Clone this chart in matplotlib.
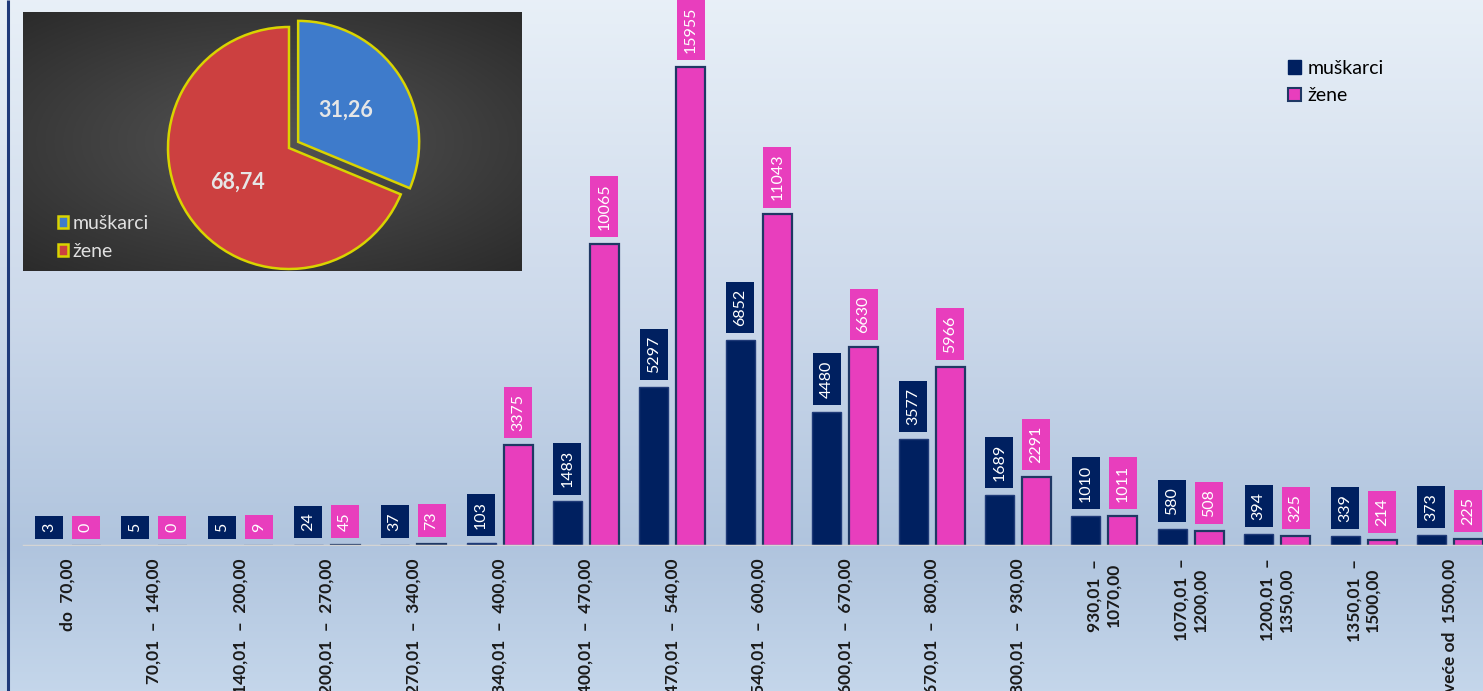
import numpy as np
import matplotlib
matplotlib.use("Agg")
import matplotlib.pyplot as plt
from matplotlib.patches import Patch

# ---------------- data ----------------
categories = ["do  70,00", "70,01  \u2013  140,00", "140,01  \u2013  200,00",
              "200,01  \u2013  270,00", "270,01  \u2013  340,00", "340,01  \u2013  400,00",
              "400,01  \u2013  470,00", "470,01  \u2013  540,00", "540,01  \u2013  600,00",
              "600,01  \u2013  670,00", "670,01  \u2013  800,00", "800,01  \u2013  930,00",
              "930,01  \u2013\n1070,00", "1070,01  \u2013\n1200,00", "1200,01  \u2013\n1350,00",
              "1350,01  \u2013\n1500,00", "ve\u0107e od  1500,00"]
men = [3, 5, 5, 24, 37, 103, 1483, 5297, 6852, 4480, 3577, 1689, 1010, 580, 394, 339, 373]
women = [0, 0, 9, 45, 73, 3375, 10065, 15955, 11043, 6630, 5966, 2291, 1011, 508, 325, 214, 225]
series_names = ["mu\u0161karci", "\u017eene"]
pie_values = [31.26, 68.74]
pie_labels = ["31,26", "68,74"]

# ---------------- style ----------------
W, H, DPI = 1483, 691, 100
NAVY = "#002060"
PINK = "#E83EBD"
FONT = ["Lato", "DejaVu Sans"]
plt.rcParams["font.family"] = FONT

fig = plt.figure(figsize=(W / DPI, H / DPI), dpi=DPI)

# background gradient
bg = fig.add_axes([0, 0, 1, 1], zorder=-10)
stops_y = [0.0, 0.45, 0.79, 1.0]
stops_c = np.array([[0.91, 0.94, 0.97], [0.80, 0.85, 0.92], [0.69, 0.77, 0.87], [0.77, 0.84, 0.92]])
yy = np.linspace(0, 1, 400)
grad = np.stack([np.interp(yy, stops_y, stops_c[:, k]) for k in range(3)], axis=1)
bg.imshow(grad[:, None, :], aspect="auto", extent=[0, 1, 1, 0])
bg.set_xlim(0, 1); bg.set_ylim(1, 0)
bg.axis("off")
bg.plot([8 / W, 8 / W], [0, 1], color="#1F3A7A", lw=2.2, solid_capstyle="butt")

# ---------------- main bar chart ----------------
base_px = 546
px_per_unit = 0.03002
spacing = 86.4
x0 = 67.5
ax = fig.add_axes([0, (H - base_px) / H, 1, base_px / H])
ax.patch.set_alpha(0)
ax.set_ylim(0, base_px / px_per_unit)
ax.set_xlim(-x0 / spacing, (W - x0) / spacing)
for s in ax.spines.values():
    s.set_visible(False)
ax.set_yticks([])
ax.tick_params(axis="x", length=0, pad=9)

x = np.arange(len(categories))
bw = 29 / spacing
off = 18.5 / spacing
b1 = ax.bar(x - off, men, bw, color=NAVY, edgecolor="#1F3A78", lw=1.0, label=series_names[0], zorder=3)
b2 = ax.bar(x + off, women, bw, color=PINK, edgecolor="#1F3864", lw=1.6, label=series_names[1], zorder=3)
ax.axhline(0, color="#D4D4D4", lw=2.5, zorder=4, xmin=24 / W)

for bars, vals, col in [(b1, men, NAVY), (b2, women, PINK)]:
    for rect, v in zip(bars, vals):
        ax.annotate(str(v), (rect.get_x() + rect.get_width() / 2, v),
                    xytext=(0, 14), textcoords="offset pixels",
                    rotation=90, ha="center", va="bottom", color="white", fontsize=11.5,
                    bbox=dict(boxstyle="square,pad=0.44", fc=col, ec="none"), zorder=5)

ax.set_xticks(x)
ax.set_xticklabels(categories, rotation=90, fontsize=12.5, fontweight="bold",
                   color="#1a1a1a", va="top", ha="center", multialignment="center")

leg = ax.legend(handles=[Patch(fc=NAVY, ec=NAVY), Patch(fc=PINK, ec="#1F3864", lw=1.5)],
                labels=series_names, loc="upper left", bbox_to_anchor=(1280 / W, 1 - 52 / base_px),
                frameon=False, fontsize=14, handlelength=0.7, handleheight=0.7,
                handletextpad=0.3, labelspacing=0.55, borderaxespad=0)

# ---------------- pie inset ----------------
L, T, R, B = 23, 12, 522, 271
pax = fig.add_axes([L / W, (H - B) / H, (R - L) / W, (B - T) / H])
pw, ph = R - L, B - T
gx, gy = np.meshgrid(np.linspace(-1, 1, 300), np.linspace(-1, 1, 160))
rr = np.sqrt((gx * 0.9) ** 2 + (gy * 1.0) ** 2)
shade = np.clip(0.33 - 0.12 * rr, 0.16, 0.33)
pax.imshow(np.dstack([shade, shade, shade]), extent=[0, pw, 0, ph], aspect="auto", zorder=0)

cx, cy, rad = 266, 123, 121
wedges, texts = pax.pie(pie_values, colors=["#3E7BCB", "#CC4040"], startangle=90, counterclock=False,
                        explode=[11, 0], center=(cx, cy), radius=rad, frame=True,
                        wedgeprops=dict(edgecolor="#D9D400", linewidth=1.8))
for w, lab, r0 in zip(wedges, pie_labels, [0.475, 0.516]):
    ang = np.deg2rad((w.theta1 + w.theta2) / 2)
    pax.text(w.center[0] + rad * r0 * np.cos(ang), w.center[1] + rad * r0 * np.sin(ang),
             lab, ha="center", va="center", fontsize=15.5, fontweight="bold", color="#E6E6E6", zorder=5)
pax.set_xlim(0, pw); pax.set_ylim(0, ph)
pax.set_aspect("auto")
pax.set_xticks([]); pax.set_yticks([])
for s in pax.spines.values():
    s.set_visible(False)
pleg = pax.legend(handles=[Patch(fc="#3E7BCB", ec="#D9D400", lw=1.8), Patch(fc="#CC4040", ec="#D9D400", lw=1.8)],
                  labels=series_names, loc="lower left", bbox_to_anchor=(27 / pw, 3 / ph),
                  frameon=False, fontsize=14, handlelength=0.55, handleheight=0.55,
                  handletextpad=0.2, labelspacing=0.6, borderaxespad=0, labelcolor="#E0E0E0")

fig.savefig("out.png", dpi=DPI)
